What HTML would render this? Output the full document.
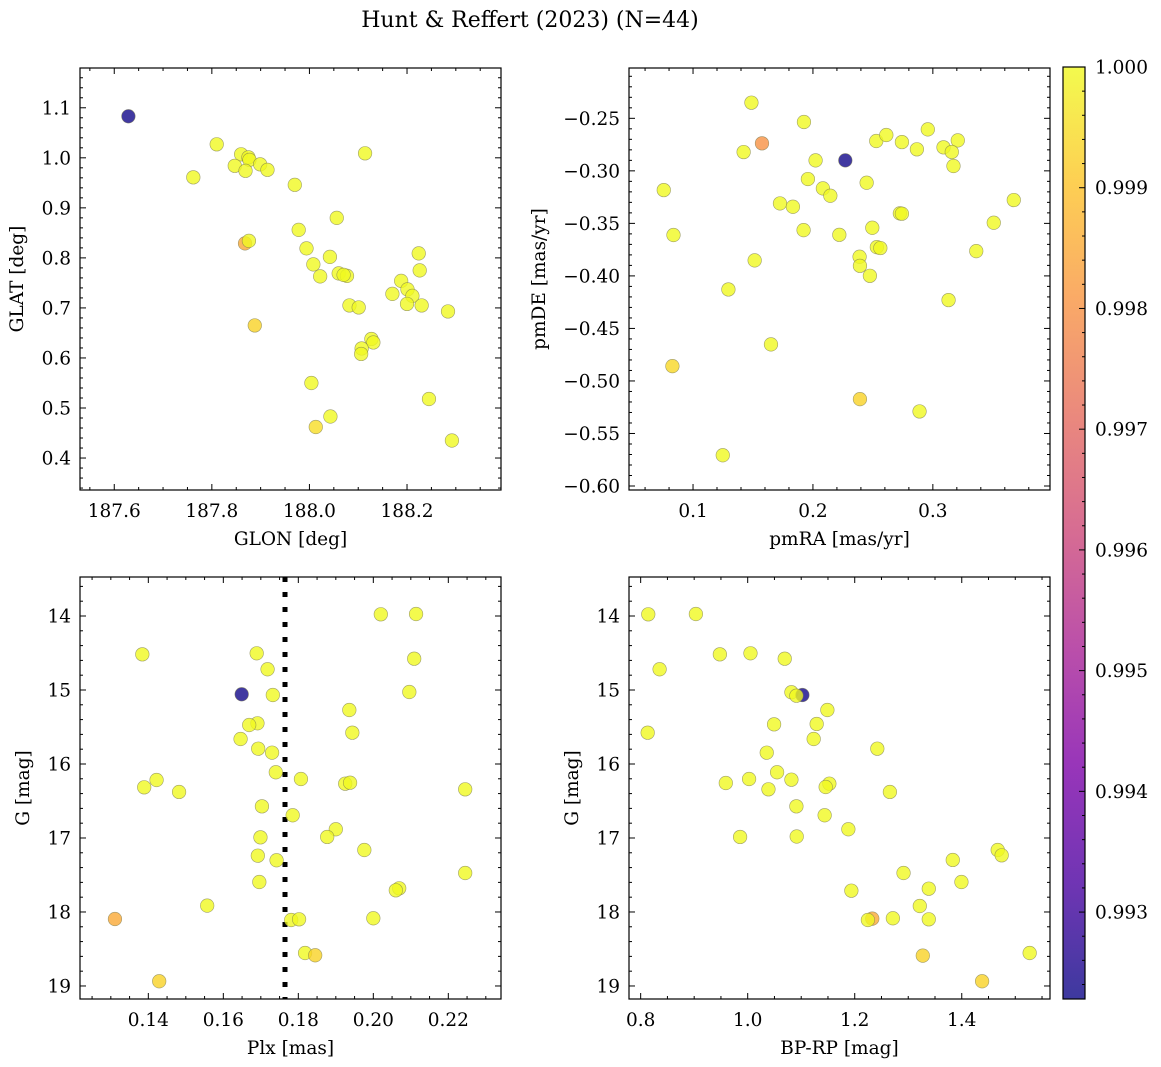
<!DOCTYPE html>
<html><head><meta charset="utf-8">
<style>
html,body{margin:0;padding:0;background:#fff;}
svg{display:block;font-family:"DejaVu Serif","Liberation Serif",serif;}
</style></head>
<body>
<svg id="fig" width="1161" height="1067" viewBox="0 0 1161 1067" xmlns="http://www.w3.org/2000/svg">
<defs>
<linearGradient id="plasma" x1="0" y1="1" x2="0" y2="0">
<stop offset="0" stop-color="#0d0887"/><stop offset="0.125" stop-color="#4c02a1"/><stop offset="0.25" stop-color="#7e03a8"/><stop offset="0.375" stop-color="#a92395"/><stop offset="0.5" stop-color="#cc4778"/><stop offset="0.625" stop-color="#e56b5d"/><stop offset="0.75" stop-color="#f89441"/><stop offset="0.875" stop-color="#fdc328"/><stop offset="1" stop-color="#f0f921"/>
</linearGradient>
</defs>
<text x="530" y="27" font-size="22" text-anchor="middle">Hunt &amp; Reffert (2023) (N=44)</text>
<g id="root"></g>
</svg>
<script>
// Panel 1: GLON vs GLAT
const glon = [187.629,187.810,187.762,187.860,187.875,187.877,187.847,187.899,187.869,187.914,187.970,188.114,188.056,187.978,187.868,187.876,187.994,188.042,188.008,188.022,188.060,188.077,188.224,188.226,188.188,188.201,188.211,188.170,188.200,188.230,188.284,188.082,188.101,187.888,188.127,188.131,188.107,188.106,188.004,188.245,188.043,188.013,188.292,188.070];
const glat = [1.083,1.027,0.961,1.007,1.001,0.996,0.984,0.987,0.974,0.976,0.946,1.009,0.880,0.856,0.829,0.834,0.819,0.802,0.787,0.763,0.769,0.764,0.809,0.775,0.754,0.737,0.724,0.728,0.708,0.705,0.693,0.705,0.701,0.665,0.638,0.631,0.619,0.608,0.550,0.518,0.483,0.462,0.435,0.766];
const prob1 = [0.99235,1,1,1,1,1,1,1,1,1,1,1,1,1,0.9985,1,1,1,1,1,1,1,1,1,1,1,1,1,1,1,1,1,1,0.9993,1,1,1,1,1,1,1,0.9995,1,1];
// Panel 2: pmRA vs pmDE
const pmra = [0.1487,0.1925,0.1575,0.1422,0.2270,0.2022,0.2528,0.2612,0.2742,0.2867,0.2958,0.3089,0.3208,0.3158,0.3172,0.0756,0.1958,0.2083,0.2145,0.2448,0.1725,0.1833,0.3675,0.2725,0.2742,0.3508,0.0837,0.1922,0.2220,0.2495,0.2533,0.2562,0.2389,0.2392,0.2475,0.3362,0.1514,0.1295,0.3131,0.1650,0.0828,0.2392,0.2889,0.1248];
const pmde = [-0.2351,-0.2535,-0.2738,-0.2821,-0.2900,-0.2900,-0.2716,-0.2659,-0.2726,-0.2795,-0.2605,-0.2776,-0.2710,-0.2820,-0.2954,-0.3183,-0.3078,-0.3167,-0.3237,-0.3113,-0.3310,-0.3342,-0.3278,-0.3405,-0.3408,-0.3494,-0.3611,-0.3564,-0.3609,-0.3542,-0.3726,-0.3735,-0.3818,-0.3904,-0.3999,-0.3764,-0.3852,-0.4129,-0.4230,-0.4652,-0.4859,-0.5173,-0.5290,-0.5707];
const prob2 = [1,1,0.998,1,0.99235,1,1,1,1,1,1,1,1,1,1,1,1,1,1,1,1,1,1,1,1,1,1,1,1,1,1,1,1,1,1,1,1,1,1,1,0.9994,0.9993,1,1];
// Panel 3: Plx vs G
const plx = [0.2020,0.2114,0.1384,0.1689,0.2109,0.1718,0.1649,0.1732,0.2096,0.1936,0.1691,0.1669,0.1944,0.1646,0.1693,0.1730,0.1740,0.1807,0.1422,0.1389,0.1482,0.1925,0.1938,0.2245,0.1703,0.1785,0.1699,0.1900,0.1877,0.1976,0.1692,0.1742,0.2245,0.1696,0.2069,0.2060,0.1557,0.1311,0.1781,0.1802,0.2000,0.1818,0.1845,0.1429];
const gmag3 = [13.977,13.973,14.518,14.504,14.577,14.720,15.058,15.068,15.027,15.270,15.450,15.473,15.577,15.662,15.793,15.847,16.112,16.203,16.216,16.315,16.378,16.266,16.253,16.342,16.572,16.693,16.991,16.882,16.986,17.162,17.239,17.301,17.473,17.595,17.680,17.707,17.914,18.095,18.108,18.099,18.085,18.554,18.585,18.936];
const prob3 = [1,1,1,1,1,1,0.99235,1,1,1,1,1,1,1,1,1,1,1,1,1,1,1,1,1,1,1,1,1,1,1,1,1,1,1,1,1,1,0.9985,1,1,1,1,0.9993,0.9993];
const plxLine = [0.17645];
// Panel 4: BP-RP vs G
const bprp = [0.8142,0.9032,0.8354,0.9480,1.0052,1.0692,1.0817,1.1022,1.0910,1.1489,1.0493,1.1289,0.8131,1.1233,1.0356,1.2422,1.0549,0.9591,1.0026,1.0817,1.0388,1.1526,1.1457,1.2657,1.0910,1.1438,1.1881,0.9858,1.0916,1.3832,1.4672,1.4746,1.2912,1.3994,1.1937,1.3384,1.3216,1.2713,1.3384,1.2328,1.2246,1.3272,1.5269,1.4380];
const gmag4 = [13.977,13.973,14.720,14.518,14.504,14.577,15.031,15.068,15.077,15.270,15.464,15.459,15.577,15.662,15.847,15.793,16.112,16.257,16.203,16.212,16.342,16.266,16.311,16.378,16.572,16.693,16.882,16.986,16.980,17.297,17.162,17.234,17.473,17.595,17.712,17.685,17.919,18.085,18.099,18.090,18.108,18.590,18.554,18.936];
const prob4 = [1,1,1,1,1,1,1,0.99235,1,1,1,1,1,1,1,1,1,1,1,1,1,1,1,1,1,1,1,1,1,1,1,1,1,1,1,1,1,1,1,0.9985,1,0.9993,1,0.9993];
// Tick labels
const ticks1x = [187.6,187.8,188.0,188.2];
const ticks1y = [0.4,0.5,0.6,0.7,0.8,0.9,1.0,1.1];
const ticks2x = [0.1,0.2,0.3];
const ticks2y = [-0.60,-0.55,-0.50,-0.45,-0.40,-0.35,-0.30,-0.25];
const ticks3x = [0.14,0.16,0.18,0.20,0.22];
const ticksGy = [14,15,16,17,18,19];
const ticks4x = [0.8,1.0,1.2,1.4];
const cbTicks = [0.993,0.994,0.995,0.996,0.997,0.998,0.999,1.000];

const NS = "http://www.w3.org/2000/svg";
const root = document.getElementById('root');
const FS = 18.5;
function mk(tag, attrs, parent){const e=document.createElementNS(NS,tag);for(const k in attrs)e.setAttribute(k,attrs[k]);(parent||root).appendChild(e);return e;}

const stops=[[0,13,8,135],[0.125,76,2,161],[0.25,126,3,168],[0.375,169,35,149],[0.5,204,71,120],[0.625,229,107,93],[0.75,248,148,65],[0.875,253,195,40],[1,240,249,33]];
const VMIN=0.99228, VMAX=1.0;
function cmap(v){let t=(v-VMIN)/(VMAX-VMIN);t=Math.max(0,Math.min(1,t));
 for(let i=1;i<stops.length;i++){if(t<=stops[i][0]){const a=stops[i-1],b=stops[i];const f=(t-a[0])/(b[0]-a[0]);
 return 'rgb('+[1,2,3].map(j=>Math.round(a[j]+(b[j]-a[j])*f)).join(',')+')';}}return 'rgb(240,249,33)';}

function fmtMinus(s){return s.replace('-','\u2212');}

function panel(o){
 const g=mk('g',{});
 
 
 const sx=v=>o.x0+(v-o.xmin)/(o.xmax-o.xmin)*(o.x1-o.x0);
 const sy=o.invert? (v=>o.y0+(v-o.ymin)/(o.ymax-o.ymin)*(o.y1-o.y0)) : (v=>o.y1-(v-o.ymin)/(o.ymax-o.ymin)*(o.y1-o.y0));
 const tg=mk('g',{stroke:'#000','stroke-width':1},g);
 
 
 const eps=1e-9;
 const n0=Math.ceil(o.xmin/o.xminor-eps), n1=Math.floor(o.xmax/o.xminor+eps);
 for(let n=n0;n<=n1;n++){const v=n*o.xminor;const px=sx(v);const major=Math.abs(v/o.xmajor-Math.round(v/o.xmajor))<1e-6;const L=major?6:3;
  mk('line',{x1:px,x2:px,y1:o.y1,y2:o.y1-L},tg);mk('line',{x1:px,x2:px,y1:o.y0,y2:o.y0+L},tg);}
 const m0=Math.ceil(Math.min(o.ymin,o.ymax)/o.yminor-eps), m1=Math.floor(Math.max(o.ymin,o.ymax)/o.yminor+eps);
 for(let n=m0;n<=m1;n++){const v=n*o.yminor;const py=sy(v);const major=Math.abs(v/o.ymajor-Math.round(v/o.ymajor))<1e-6;const L=major?6:3;
  mk('line',{x1:o.x0,x2:o.x0+L,y1:py,y2:py},tg);mk('line',{x1:o.x1,x2:o.x1-L,y1:py,y2:py},tg);}
 o.xt.forEach(v=>{const t=mk('text',{x:sx(v),y:o.y1+27,'font-size':FS,'text-anchor':'middle'},g);t.textContent=fmtMinus(v.toFixed(o.xdec));
  
  });
 o.yt.forEach(v=>{const t=mk('text',{x:o.x0-9,y:sy(v)+6.5,'font-size':FS,'text-anchor':'end'},g);t.textContent=fmtMinus(v.toFixed(o.ydec));
  
  });
 const xl=mk('text',{x:(o.x0+o.x1)/2,y:o.y1+55,'font-size':FS,'text-anchor':'middle'},g);xl.textContent=o.xlabel;
 
 
 const yx=o.ylabx, yy=(o.y0+o.y1)/2;
 const yl=mk('text',{x:yx,y:yy,'font-size':FS,'text-anchor':'middle',transform:'rotate(-90 '+yx+' '+yy+')'},g);yl.textContent=o.ylabel;
 
 
 if(o.vline){o.vline.forEach(v=>{const l=mk('line',{x1:sx(v),x2:sx(v),y1:o.y0,y2:o.y1,stroke:'#000','stroke-width':5,'stroke-dasharray':'5 10'},g);
  
  });}
 const pg=mk('g',{},g);
 
 
 for(let i=0;i<o.xs.length;i++){
  const c=mk('circle',{cx:sx(o.xs[i]),cy:sy(o.ys[i]),r:6.8,fill:cmap(o.cs[i]),'fill-opacity':0.8,stroke:'#7a7a50','stroke-opacity':0.7,'stroke-width':0.6},pg);
  
  
 }
 const fr=mk('rect',{x:o.x0,y:o.y0,width:o.x1-o.x0,height:o.y1-o.y0,fill:'none',stroke:'#000','stroke-width':1.2},g);
 
 
}

panel({name:'glon-glat-panel',x0:80,x1:501,y0:68,y1:490,xmin:187.5298,xmax:188.3926,ymin:0.3361,ymax:1.1795,
 xminor:0.05,xmajor:0.2,yminor:0.02,ymajor:0.1,xt:ticks1x,yt:ticks1y,xdec:1,ydec:1,xlabel:'GLON [deg]',ylabel:'GLAT [deg]',ylabx:23,
 xs:glon,ys:glat,cs:prob1});
panel({name:'proper-motion-panel',x0:629,x1:1050,y0:68,y1:490,xmin:0.0466,xmax:0.3977,ymin:-0.6038,ymax:-0.2021,
 xminor:0.02,xmajor:0.1,yminor:0.01,ymajor:0.05,xt:ticks2x,yt:ticks2y,xdec:1,ydec:2,xlabel:'pmRA [mas/yr]',ylabel:'pmDE [mas/yr]',ylabx:545,
 xs:pmra,ys:pmde,cs:prob2});
panel({name:'parallax-panel',x0:80,x1:501,y0:577,y1:999,xmin:0.12178,xmax:0.23405,ymin:13.473,ymax:19.176,invert:true,
 xminor:0.005,xmajor:0.02,yminor:0.2,ymajor:1,xt:ticks3x,yt:ticksGy,xdec:2,ydec:0,xlabel:'Plx [mas]',ylabel:'G [mag]',ylabx:29,
 xs:plx,ys:gmag3,cs:prob3,vline:plxLine});
panel({name:'cmd-panel',x0:629,x1:1050,y0:577,y1:999,xmin:0.7782,xmax:1.5649,ymin:13.473,ymax:19.176,invert:true,
 xminor:0.05,xmajor:0.2,yminor:0.2,ymajor:1,xt:ticks4x,yt:ticksGy,xdec:1,ydec:0,xlabel:'BP-RP [mag]',ylabel:'G [mag]',ylabx:578,
 xs:bprp,ys:gmag4,cs:prob4});

const cb=mk('g',{});


const CX0=1063,CX1=1085,CY0=67,CY1=999;
const cy=v=>CY1-(v-VMIN)/(VMAX-VMIN)*(CY1-CY0);
const grad=mk('rect',{x:CX0,y:CY0,width:CX1-CX0,height:CY1-CY0,fill:'url(#plasma)','fill-opacity':0.8},cb);


for(let n=Math.ceil(VMIN/0.0002);n<=Math.floor(VMAX/0.0002+1e-6);n++){const v=n*0.0002;const major=Math.abs(v/0.001-Math.round(v/0.001))<1e-6;
 mk('line',{x1:CX1,x2:CX1-(major?6:3),y1:cy(v),y2:cy(v),stroke:'#000','stroke-width':1},cb);}
cbTicks.forEach(v=>{const t=mk('text',{x:CX1+10,y:cy(v)+6.5,'font-size':FS},cb);t.textContent=v.toFixed(3);
 
 });
const cbf=mk('rect',{x:CX0,y:CY0,width:CX1-CX0,height:CY1-CY0,fill:'none',stroke:'#000','stroke-width':1.2},cb);


</script>
</body></html>
